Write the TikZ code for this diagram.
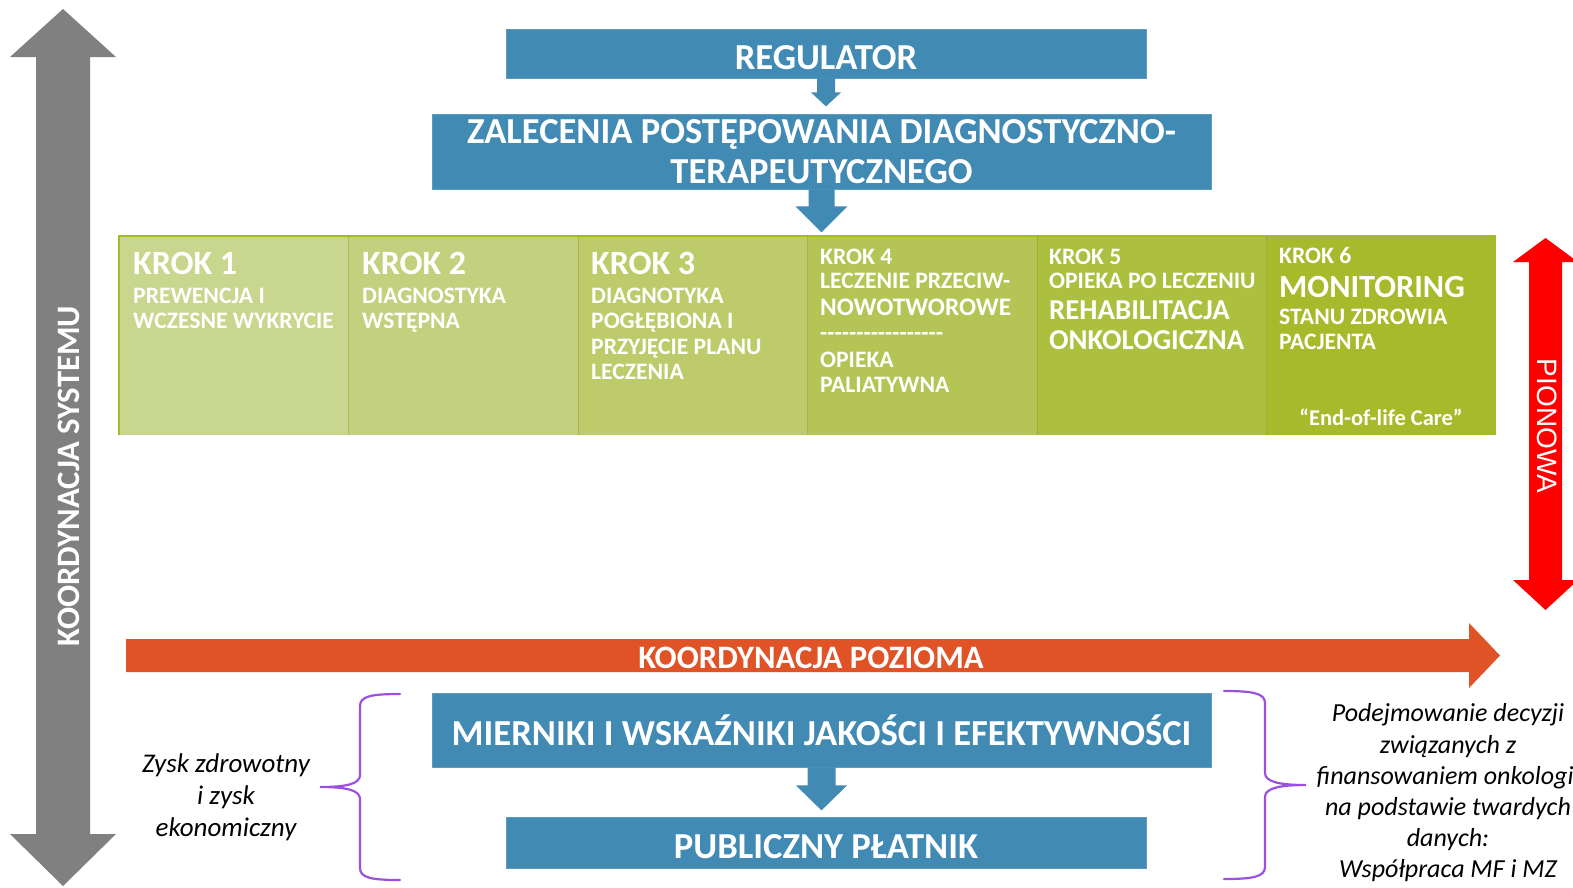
\documentclass[tikz,border=0pt]{standalone}
\usepackage{fontspec}
\setmainfont{Carlito}
\newfontfamily\arialf{Liberation Sans}
\usetikzlibrary{calc}
\definecolor{boxblue}{RGB}{65,138,179}
\definecolor{grayarrow}{RGB}{128,128,128}
\definecolor{orangearrow}{RGB}{224,83,38}
\definecolor{redarrow}{RGB}{255,0,0}
\definecolor{bracepurple}{RGB}{155,80,225}
\definecolor{gA}{RGB}{201,215,142}
\definecolor{gB}{RGB}{195,209,126}
\definecolor{gC}{RGB}{189,203,106}
\definecolor{gD}{RGB}{180,197,85}
\definecolor{gE}{RGB}{172,191,62}
\definecolor{gF}{RGB}{166,186,44}
\definecolor{gborder}{RGB}{166,186,44}
\newcommand\blockarrow[6]{%
  \fill[#6] ($(#1)+(-#2,0)$) -- ($(#1)+(-#2,#3)$) -- ($(#1)+(-#4,#3)$) -- ($(#1)+(0,#3+#5)$)
    -- ($(#1)+(#4,#3)$) -- ($(#1)+(#2,#3)$) -- ($(#1)+(#2,0)$) -- cycle;}
\newcommand\hy{\mbox{-}}
\tikzset{
  bluebox/.style={fill=boxblue, draw=boxblue!85!white, line width=0.8pt, text=white,
    font=\bfseries\fontsize{36.6}{40}\selectfont, inner sep=0pt, align=center},
  oneline/.style={text height=31pt, text depth=0pt},
  colbox/.style={minimum width=229.5pt, minimum height=199pt, inner sep=0pt, draw=none},
  ct/.style={text=white, anchor=base west, inner sep=0pt, font=\bfseries\fontsize{23.6}{25}\selectfont},
  ctbig/.style={ct, font=\bfseries\fontsize{34}{36}\selectfont},
  ctmid/.style={ct, font=\bfseries\fontsize{28.8}{30}\selectfont},
  arrowtext/.style={text=white, inner sep=0pt, font=\bfseries\fontsize{32.7}{34}\selectfont, text height=21pt, text depth=0pt},
  bracestyle/.style={draw=bracepurple, line width=2.2pt, line cap=round},
  sidetext/.style={align=center, inner sep=0pt, font=\itshape\fontsize{27}{32}\selectfont}
}
\begin{document}
\begin{tikzpicture}[x=1pt,y=-1pt]
\useasboundingbox (0,0) rectangle (1573,887);

% gray vertical double arrow
\fill[grayarrow] (63,9) -- (116,57) -- (90,57) -- (90,834) -- (116,834) -- (63,886)
  -- (10,834) -- (36,834) -- (36,57) -- (10,57) -- cycle;
\node[arrowtext, rotate=90] (ks) at (69,476) {KOORDYNACJA SYSTEMU};

% red vertical double arrow
\fill[redarrow] (1545.5,238) -- (1578,262) -- (1562,262) -- (1562,580) -- (1578,580) -- (1545.5,610)
  -- (1513,580) -- (1529,580) -- (1529,262) -- (1513,262) -- cycle;
\node[text=white, inner sep=0pt, rotate=-90, font=\arialf\fontsize{28}{30}\selectfont, text height=20pt, text depth=0pt] (pion) at (1547,426) {PIONOWA};

% orange horizontal arrow
\fill[orangearrow] (126,639) -- (1469,639) -- (1469,623) -- (1500,655.5) -- (1469,688) -- (1469,672) -- (126,672) -- cycle;
\node[arrowtext] (kp) at (811,658) {KOORDYNACJA POZIOMA};

% blue boxes
\node[bluebox, oneline, minimum width=640pt, minimum height=49pt] (reg) at (826,53.5) {REGULATOR};
\node[bluebox, minimum width=779pt, minimum height=75pt] (zal) at (821.5,151.5)
  {ZALECENIA POSTĘPOWANIA DIAGNOSTYCZNO-\\TERAPEUTYCZNEGO};
\node[bluebox, oneline, minimum width=779pt, minimum height=74pt] (mier) at (821.5,730)
  {MIERNIKI I WSKAŹNIKI JAKOŚCI I EFEKTYWNOŚCI};
\node[bluebox, oneline, minimum width=640pt, minimum height=51pt] (pub) at (826,842.5) {PUBLICZNY PŁATNIK};

\blockarrow{reg.south}{9}{14}{15}{14}{boxblue}
\blockarrow{zal.south}{13}{17}{26}{26}{boxblue}
\blockarrow{mier.south}{14}{18}{25.5}{25}{boxblue}

% green step band
\node[colbox, fill=gA] (k1) at (233.75,335.5) {};
\node[colbox, fill=gB] (k2) at (463.25,335.5) {};
\node[colbox, fill=gC] (k3) at (692.75,335.5) {};
\node[colbox, fill=gD] (k4) at (922.25,335.5) {};
\node[colbox, fill=gE] (k5) at (1151.75,335.5) {};
\node[colbox, fill=gF] (k6) at (1381.25,335.5) {};
\draw[gborder, line width=2pt] (k1.south west) -- (k1.north west) -- (k6.north east);
\draw[gborder!80!black, line width=0.4pt, opacity=0.4] (k2.north west) -- (k2.south west)
  (k3.north west) -- (k3.south west) (k4.north west) -- (k4.south west)
  (k5.north west) -- (k5.south west) (k6.north west) -- (k6.south west);

% column 1
\node[ctbig] (t1a) at (133,274) {KROK 1};
\node[ct] (t1b) at (133,303) {PREWENCJA I};
\node[ct] (t1c) at (133,328) {WCZESNE WYKRYCIE};
% column 2
\node[ctbig] (t2a) at (362,274) {KROK 2};
\node[ct] (t2b) at (362,303) {DIAGNOSTYKA};
\node[ct] (t2c) at (362,328) {WSTĘPNA};
% column 3
\node[ctbig] (t3a) at (591,274) {KROK 3};
\node[ct] (t3b) at (591,303) {DIAGNOTYKA};
\node[ct] (t3c) at (591,328) {POGŁĘBIONA I};
\node[ct] (t3d) at (591,354) {PRZYJĘCIE PLANU};
\node[ct] (t3e) at (591,379) {LECZENIA};
% column 4
\node[ct] (t4a) at (820,264) {KROK 4};
\node[ct] (t4b) at (820,288) {LECZENIE PRZECIW-};
\node[ct, font=\bfseries\fontsize{25.3}{27}\selectfont] (t4c) at (820,315) {NOWOTWOROWE};
\node[ct] (t4d) at (820,340) {\hy\hy\hy\hy\hy\hy\hy\hy\hy\hy\hy\hy\hy\hy\hy\hy\hy};
\node[ct] (t4e) at (820,367) {OPIEKA};
\node[ct] (t4f) at (820,392) {PALIATYWNA};
% column 5
\node[ct] (t5a) at (1049,264) {KROK 5};
\node[ct] (t5b) at (1049,288) {OPIEKA PO LECZENIU};
\node[ctmid] (t5c) at (1049,319) {REHABILITACJA};
\node[ctmid] (t5d) at (1049,349) {ONKOLOGICZNA};
% column 6
\node[ct] (t6a) at (1279,263) {KROK 6};
\node[ct, font=\bfseries\fontsize{32.3}{34}\selectfont] (t6b) at (1279,297) {MONITORING};
\node[ct] (t6c) at (1279,324.5) {STANU ZDROWIA};
\node[ct] (t6d) at (1279,349.5) {PACJENTA};
\node[ct, anchor=base, font=\bfseries\fontsize{22.5}{24}\selectfont] (t6e) at (1381,425) {“End-of-life Care”};

% braces
\draw[bracestyle] (400,694) .. controls (372,694) and (360,696) .. (360,706) -- (360,775)
  .. controls (360,784) and (346,787) .. (320,787)
  .. controls (346,787) and (360,790) .. (360,799) -- (360,868)
  .. controls (360,878) and (372,880) .. (400,880);
\draw[bracestyle] (1224,691) .. controls (1252,691) and (1265,693) .. (1265,703) -- (1265,773)
  .. controls (1265,782) and (1280,785) .. (1306,785)
  .. controls (1280,785) and (1265,788) .. (1265,797) -- (1265,867)
  .. controls (1265,877) and (1252,879) .. (1224,879);

% side texts
\node[sidetext] (zysk) at (226,797) {Zysk zdrowotny\\i zysk\\ekonomiczny};
\node[sidetext, font=\itshape\fontsize{26}{31.2}\selectfont] (decyz) at (1448,793)
  {Podejmowanie decyzji\\związanych z\\finansowaniem onkologii\\na podstawie twardych\\danych:\\Współpraca MF i MZ};
\end{tikzpicture}
\end{document}
